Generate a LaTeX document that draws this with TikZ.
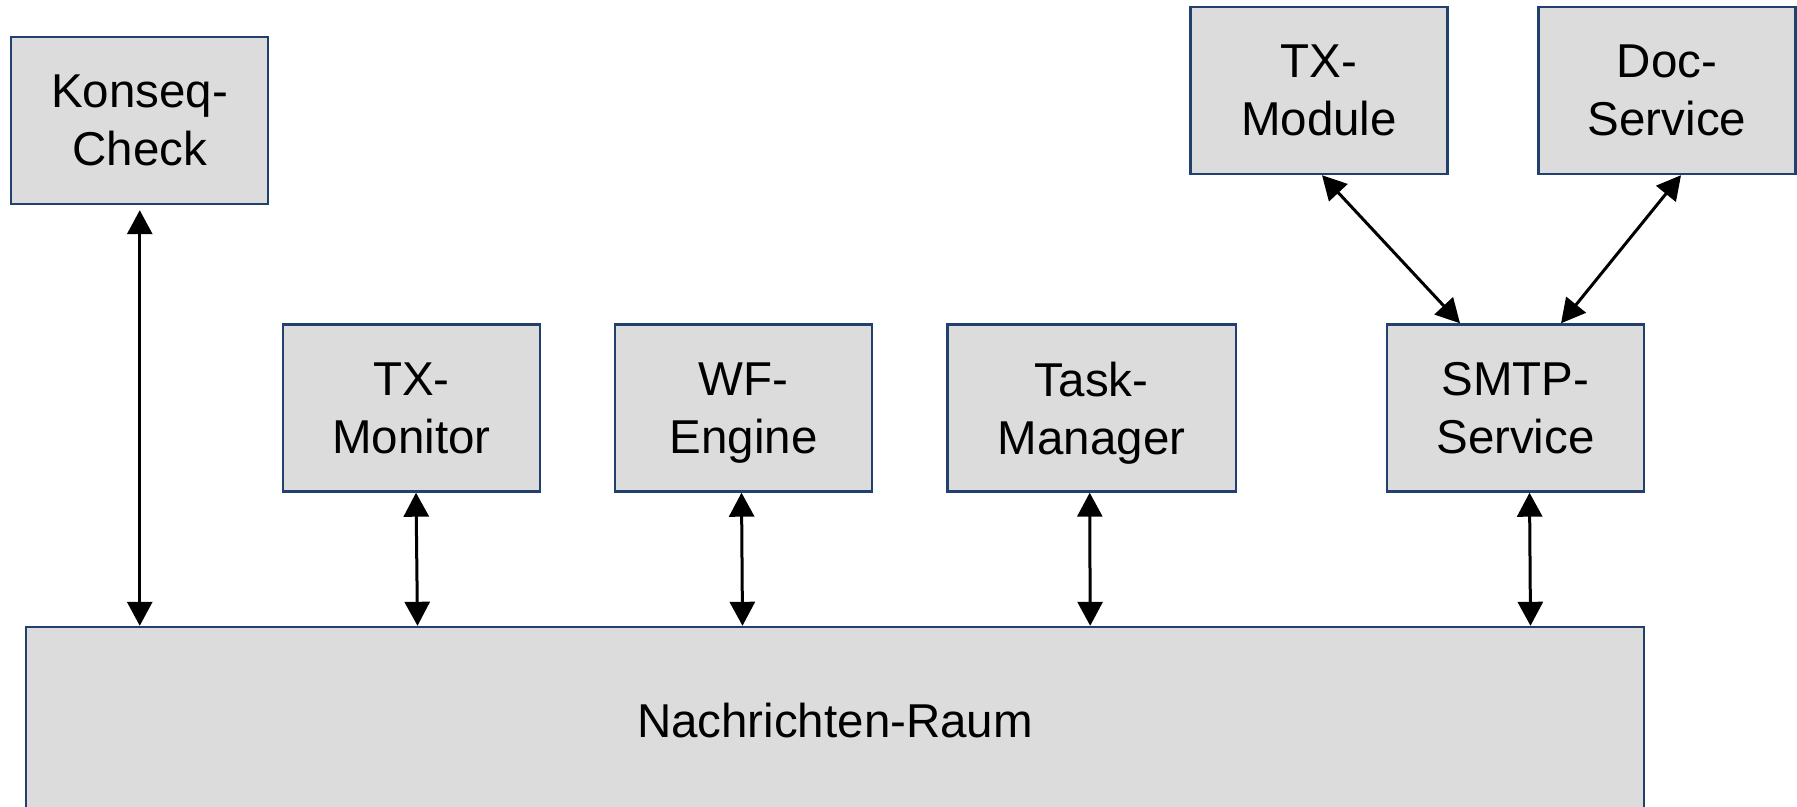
\documentclass[tikz,border=0pt]{standalone}
\usepackage{fontspec}
\setmainfont{Liberation Sans}
\usetikzlibrary{arrows.meta,calc}
\definecolor{boxfill}{HTML}{DCDCDC}
\definecolor{boxline}{HTML}{22406E}
\begin{document}
\begin{tikzpicture}[x=0.5pt,y=-0.5pt,
  box/.style={draw=boxline, fill=boxfill, line width=1.2pt, inner sep=0pt,
    align=center, font=\fontsize{23.75pt}{29pt}\selectfont, text depth=0pt,
    minimum width=128.5pt, minimum height=83.5pt},
  link/.style={line width=1.5pt,
    {Triangle[length=12pt,width=12.5pt]}-{Triangle[length=12pt,width=12.5pt]}}]
\useasboundingbox (0,0) rectangle (1797,807);

% services
\node[box] (konseq) at (139.75,120.5) {Konseq-\\Check};
\node[box] (txmon)  at (411.5,408)    {TX-\\Monitor};
\node[box] (wf)     at (743.5,408)    {WF-\\Engine};
\node[box, minimum width=144.4pt] (task) at (1091.7,408) {Task-\\Manager};
\node[box] (smtp)   at (1515.5,408)   {SMTP-\\Service};
\node[box] (txmod)  at (1319,90.5)    {TX-\\Module};
\node[box] (doc)    at (1667,90.5)    {Doc-\\Service};

% shared message space
\node[box, minimum width=809pt, minimum height=93pt] (raum) at (835,720) {Nachrichten-Raum};

% connections to the message space
\draw[link] ($(konseq.south)+(0,5)$) -- (konseq.south |- raum.north);
\draw[link] ($(txmon.south)+(4.5,0)$) -- ($(txmon.south |- raum.north)+(6,0)$);
\draw[link] ($(wf.south)+(-2,0)$) -- ($(wf.south |- raum.north)+(-1,0)$);
\draw[link] ($(task.south)+(-2,0)$) -- ($(task.south |- raum.north)+(-1.5,0)$);
\draw[link] ($(smtp.south)+(14,0)$) -- ($(smtp.south |- raum.north)+(15,0)$);

% SMTP service links
\draw[link] ($(txmod.south)+(3,0)$) -- ($(smtp.north)+(-55.5,0)$);
\draw[link] ($(doc.south)+(14,0)$) -- ($(smtp.north)+(45.5,0)$);
\end{tikzpicture}
\end{document}
